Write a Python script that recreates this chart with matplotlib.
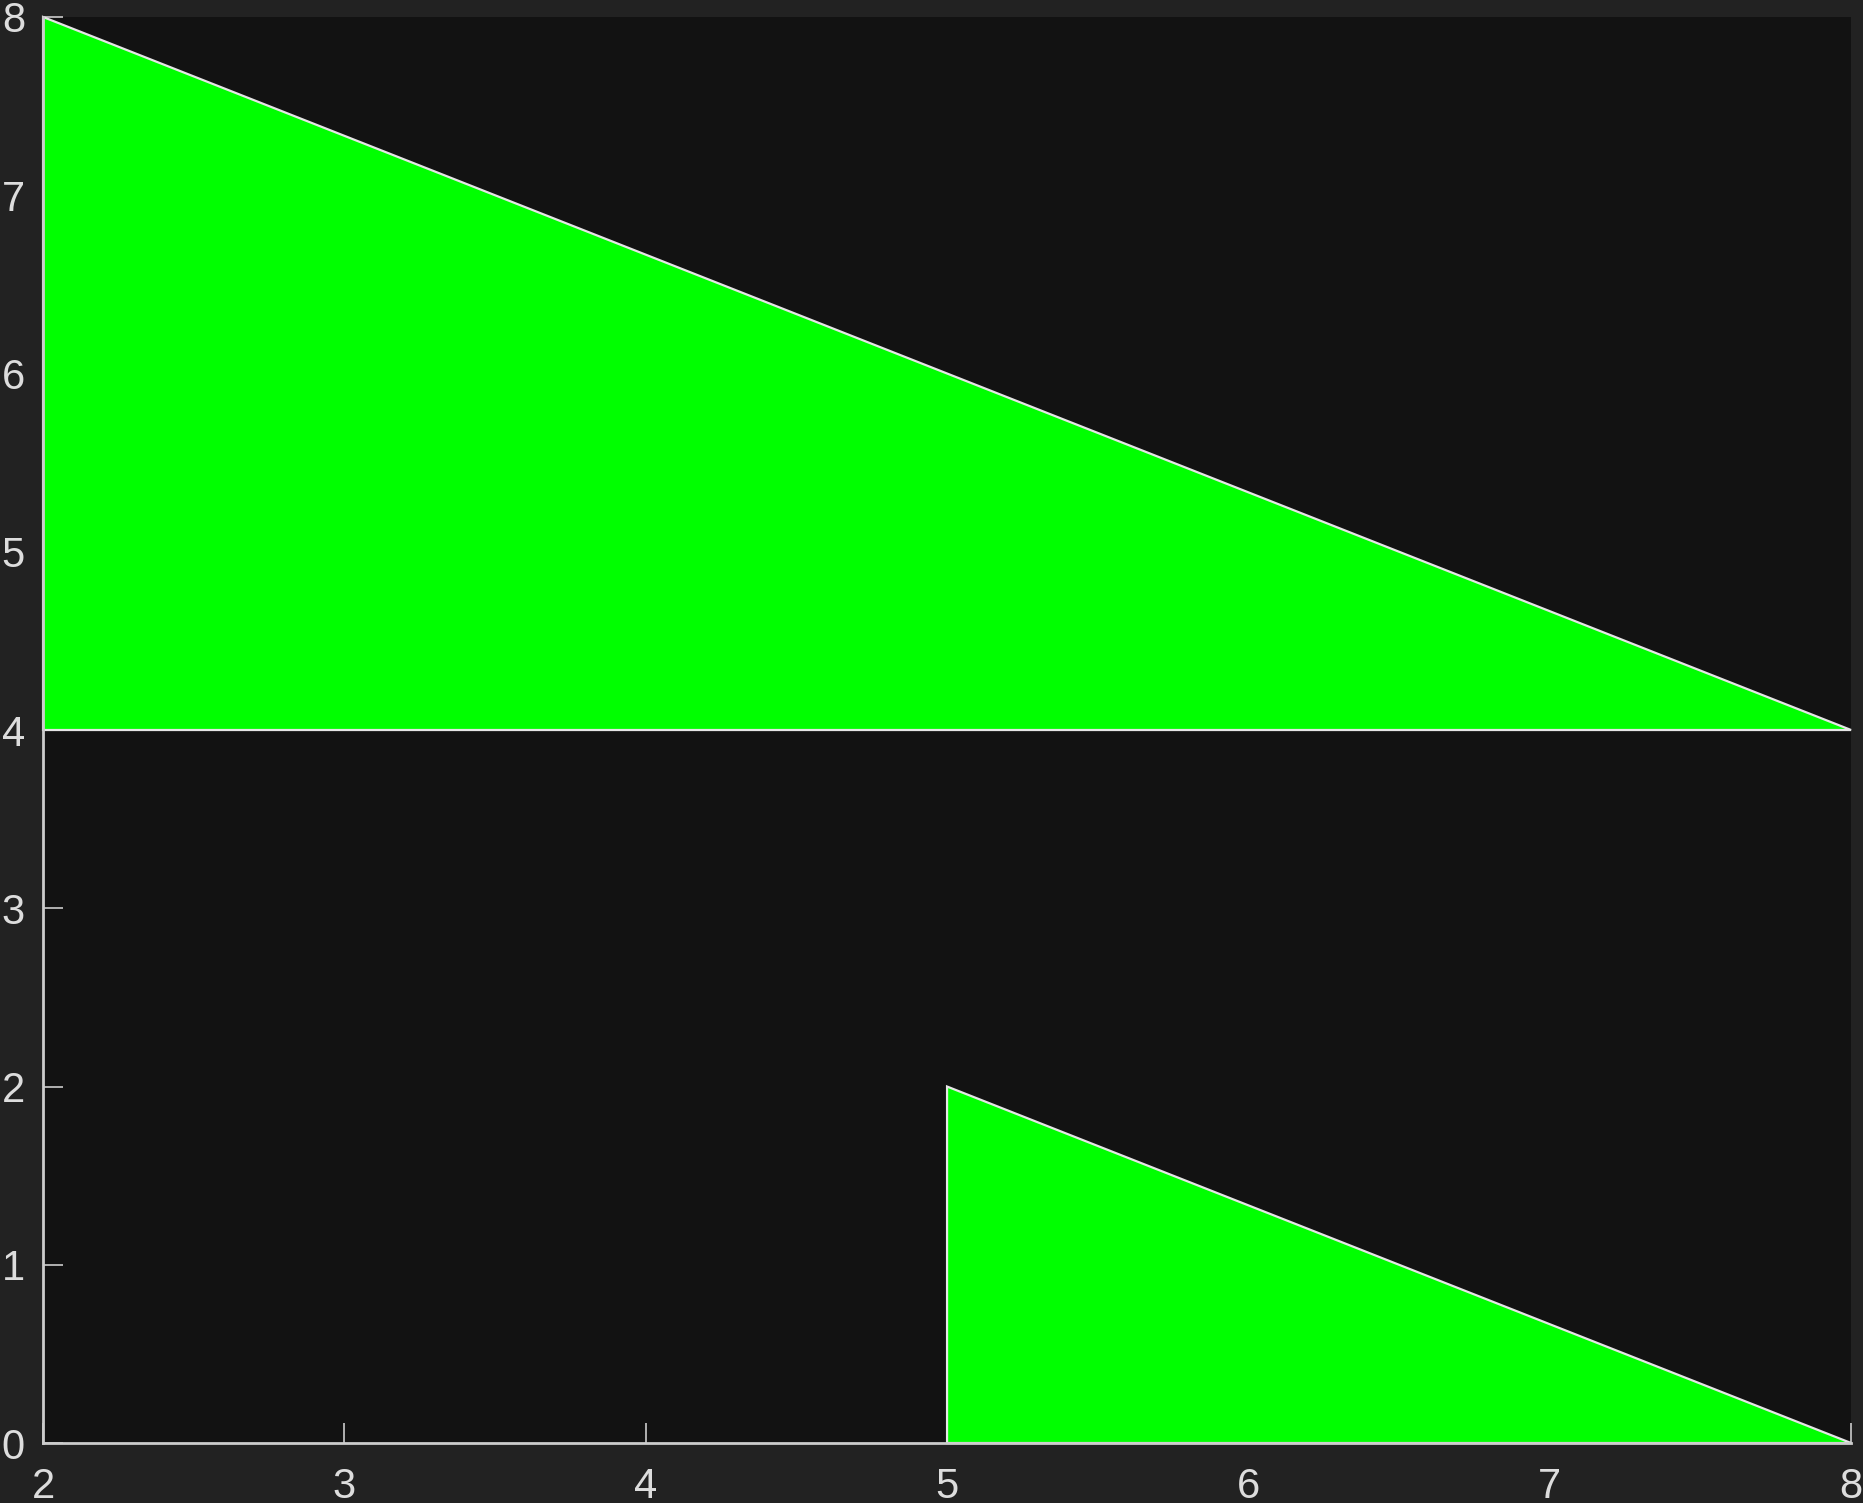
import matplotlib
matplotlib.use("Agg")
import matplotlib.pyplot as plt

tri1_x = [2, 8, 2]
tri1_y = [8, 4, 4]
tri2_x = [5, 8, 5]
tri2_y = [2, 0, 0]
xticks = [2, 3, 4, 5, 6, 7, 8]
yticks = [0, 1, 2, 3, 4, 5, 6, 7, 8]

plt.rcParams['font.family'] = ['Liberation Sans', 'DejaVu Sans']

fig = plt.figure(figsize=(18.63, 15.03), dpi=100, facecolor='#222222')
ax = fig.add_axes([0.0231, 0.0399, 0.9705, 0.9488])
ax.set_facecolor('#121212')

for xs, ys in [(tri1_x, tri1_y), (tri2_x, tri2_y)]:
    ax.fill(xs, ys, facecolor='#00ff00', edgecolor='#e6e6e6', linewidth=1.6,
            clip_on=False, zorder=3)

ax.set_xlim(2, 8)
ax.set_ylim(0, 8)
ax.set_xticks(xticks)
ax.set_yticks(yticks)
for s in ['top', 'right']:
    ax.spines[s].set_visible(False)
for s in ['left', 'bottom']:
    ax.spines[s].set_color('#cccccc')
    ax.spines[s].set_linewidth(2)
    ax.spines[s].set_zorder(4)
ax.tick_params(axis='both', direction='in', length=14.4, width=1.2, colors='#cccccc',
               labelcolor='#dddddd', labelsize=30)
ax.tick_params(axis='x', pad=17)
ax.tick_params(axis='y', pad=13)

fig.savefig('out.png', dpi=100, facecolor=fig.get_facecolor())
